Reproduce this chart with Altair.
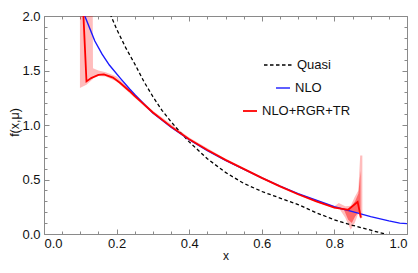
import altair as alt
import pandas as pd

# ---- data ----
x_quasi = [0.182, 0.20, 0.225, 0.25, 0.275, 0.30, 0.325, 0.35, 0.375, 0.40, 0.45, 0.50,
           0.55, 0.60, 0.65, 0.70, 0.75, 0.80, 0.85, 0.90, 0.94, 0.96]
f_quasi = [2.02, 1.88, 1.71, 1.56, 1.40, 1.26, 1.135, 1.03, 0.935, 0.845, 0.69, 0.565,
           0.465, 0.39, 0.33, 0.27, 0.195, 0.13, 0.08, 0.035, 0.0, -0.02]

x_nlo = [0.110, 0.14, 0.16, 0.18, 0.21, 0.236, 0.25, 0.27, 0.30, 0.35, 0.40, 0.45, 0.50,
         0.55, 0.60, 0.65, 0.70, 0.75, 0.80, 0.85, 0.90, 0.95, 0.98, 1.00]
f_nlo = [2.02, 1.77, 1.65, 1.55, 1.43, 1.33, 1.28, 1.212, 1.11, 0.98, 0.865, 0.765, 0.675,
         0.595, 0.515, 0.44, 0.37, 0.31, 0.25, 0.205, 0.16, 0.12, 0.10, 0.095]

x_red = [0.108, 0.117, 0.13, 0.15, 0.165, 0.19, 0.21, 0.236, 0.25, 0.27, 0.30, 0.35, 0.40,
         0.45, 0.50, 0.55, 0.60, 0.65, 0.70, 0.75, 0.80, 0.838, 0.864, 0.873]
f_red = [2.05, 1.40, 1.43, 1.46, 1.465, 1.435, 1.385, 1.31, 1.265, 1.205, 1.115, 0.985, 0.87,
         0.77, 0.68, 0.598, 0.515, 0.437, 0.365, 0.30, 0.243, 0.222, 0.295, 0.15]

x_band = [0.099, 0.117, 0.134, 0.135, 0.15, 0.17, 0.2, 0.25, 0.3, 0.4, 0.5, 0.6, 0.7, 0.8,
          0.812, 0.83, 0.845, 0.856, 0.866, 0.871, 0.877]
lo_band = [1.34, 1.37, 1.42, 1.44, 1.45, 1.445, 1.40, 1.25, 1.10, 0.86, 0.67, 0.505, 0.355,
           0.235, 0.24, 0.15, 0.04, 0.10, 0.19, 0.14, 0.15]
hi_band = [2.2, 2.2, 2.2, 1.52, 1.50, 1.485, 1.445, 1.285, 1.13, 0.885, 0.69, 0.525, 0.375,
           0.255, 0.285, 0.255, 0.26, 0.34, 0.40, 0.72, 0.72]

x_core = [0.826, 0.838, 0.848, 0.857, 0.866, 0.872]
lo_core = [0.225, 0.13, 0.10, 0.16, 0.20, 0.16]
hi_core = [0.235, 0.232, 0.26, 0.30, 0.37, 0.58]

x_major = [0.0, 0.2, 0.4, 0.6, 0.8, 1.0]
x_minor = [0.05, 0.1, 0.15, 0.25, 0.3, 0.35, 0.45, 0.5, 0.55, 0.65, 0.7, 0.75, 0.85, 0.9, 0.95]
y_major = [0.0, 0.5, 1.0, 1.5, 2.0]
y_minor = [0.1, 0.2, 0.3, 0.4, 0.6, 0.7, 0.8, 0.9, 1.1, 1.2, 1.3, 1.4, 1.6, 1.7, 1.8, 1.9]

W, H = 363, 218
FONT = "Liberation Sans"
FRAME = "#8a8a8a"
TXT = "#111111"

quasi = pd.DataFrame({"x": x_quasi, "f": f_quasi, "s": "Quasi"})
nlo = pd.DataFrame({"x": x_nlo, "f": f_nlo, "s": "NLO"})
red = pd.DataFrame({"x": x_red, "f": f_red, "s": "NLO+RGR+TR"})
band = pd.DataFrame({"x": x_band, "lo": lo_band, "hi": hi_band})
core = pd.DataFrame({"x": x_core, "lo": lo_core, "hi": hi_core})

xs = alt.Scale(domain=[0, 1], nice=False, zero=False)
ys = alt.Scale(domain=[0, 2], nice=False, zero=False)


def tick_axis(orient, offset, values, size, domain=False):
    return alt.Axis(orient=orient, offset=offset, values=values, tickSize=size,
                    labels=False, domain=domain, domainColor=FRAME, tickColor=FRAME,
                    tickWidth=1, title=None, grid=False)


def legend(x, y, size, width, dash=None):
    kw = dict(orient="none", legendX=x, legendY=y, symbolType="stroke",
              symbolSize=size, symbolStrokeWidth=width, labelFont=FONT,
              labelFontSize=13, labelColor=TXT, padding=0, labelOffset=4,
              title=None)
    if dash is not None:
        kw["symbolDash"] = dash
    return alt.Legend(**kw)


band_layer = alt.Chart(band).mark_area(color="#ff0000", opacity=0.26, clip=True).encode(
    x=alt.X("x:Q", scale=xs, axis=alt.Axis(orient="bottom", values=x_major, format=".1f",
            tickSize=0, labelPadding=3, domain=True, domainColor=FRAME, labelFont=FONT,
            labelFontSize=13, labelColor=TXT, title="x", titleFont=FONT,
            titleFontSize=12, titleFontWeight="normal", titleColor=TXT,
            titlePadding=0, grid=False)),
    y=alt.Y("lo:Q", scale=ys, axis=alt.Axis(orient="left", values=y_major, format=".1f",
            tickSize=0, labelPadding=4, domain=True, domainColor=FRAME, labelFont=FONT,
            labelFontSize=13, labelColor=TXT, title="f(x,\u03bc)", titleFont=FONT,
            titleFontSize=12.5, titleFontWeight="normal", titleColor=TXT,
            titleX=-23, titleY=106, grid=False)),
    y2="hi:Q",
)

core_layer = alt.Chart(core).mark_area(color="#ff0000", opacity=0.45, clip=True).encode(
    x=alt.X("x:Q", scale=xs, axis=tick_axis("top", -H, x_major, 5)),
    y=alt.Y("lo:Q", scale=ys, axis=tick_axis("right", -W, y_major, 5)),
    y2="hi:Q",
)

quasi_layer = alt.Chart(quasi).mark_line(strokeWidth=1.3, strokeDash=[3.5, 2.5], clip=True).encode(
    x=alt.X("x:Q", scale=xs, axis=tick_axis("top", -H, x_minor, 3)),
    y=alt.Y("f:Q", scale=ys, axis=tick_axis("right", -W, y_minor, 3)),
    color=alt.Color("s:N", scale=alt.Scale(domain=["Quasi"], range=["#000000"]),
                    legend=legend(219, 34, 784, 1.3, [3.5, 2.5])),
    order="x:Q",
)

nlo_layer = alt.Chart(nlo).mark_line(strokeWidth=1.4, clip=True).encode(
    x=alt.X("x:Q", scale=xs, axis=tick_axis("bottom", -H, x_major, 5, True)),
    y=alt.Y("f:Q", scale=ys, axis=tick_axis("left", -W, y_major, 5, True)),
    color=alt.Color("s:N", scale=alt.Scale(domain=["NLO"], range=["#1a1aff"]),
                    legend=legend(231, 64, 196, 1.4)),
    order="x:Q",
)

red_layer = alt.Chart(red).mark_line(strokeWidth=1.8, clip=True).encode(
    x=alt.X("x:Q", scale=xs, axis=tick_axis("bottom", -H, x_minor, 3)),
    y=alt.Y("f:Q", scale=ys, axis=tick_axis("left", -W, y_minor, 3)),
    color=alt.Color("s:N", scale=alt.Scale(domain=["NLO+RGR+TR"], range=["#ff0000"]),
                    legend=legend(198, 87, 196, 1.8)),
    order="x:Q",
)

chart = alt.layer(band_layer, core_layer, quasi_layer, nlo_layer, red_layer).resolve_axis(
    x="independent", y="independent"
).resolve_scale(color="independent").resolve_legend(color="independent").properties(
    width=W, height=H,
    autosize=alt.AutoSizeParams(type="none"),
    padding={"left": 36, "top": 8, "right": 3, "bottom": 29},
).configure_view(stroke=None).configure(background="white")

chart.save("out.html", embed_options={"renderer": "svg", "actions": False})
